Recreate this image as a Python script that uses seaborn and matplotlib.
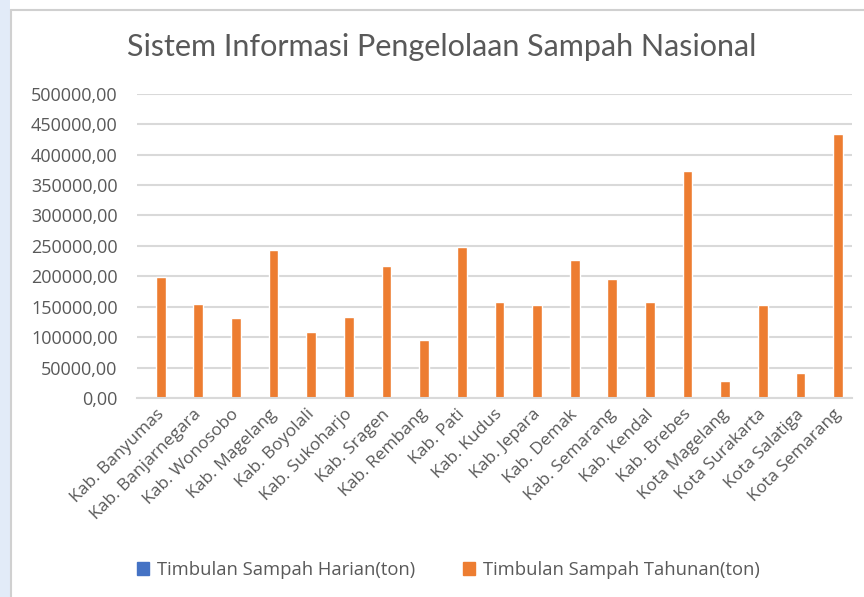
import pandas as pd
import seaborn as sns
import matplotlib.pyplot as plt
import matplotlib.patches as mpatches
from matplotlib.ticker import FuncFormatter

# Wilayah (kabupaten / kota)
wilayah = ['Kab. Banyumas', 'Kab. Banjarnegara', 'Kab. Wonosobo', 'Kab. Magelang',
           'Kab. Boyolali', 'Kab. Sukoharjo', 'Kab. Sragen', 'Kab. Rembang',
           'Kab. Pati', 'Kab. Kudus', 'Kab. Jepara', 'Kab. Demak',
           'Kab. Semarang', 'Kab. Kendal', 'Kab. Brebes', 'Kota Magelang',
           'Kota Surakarta', 'Kota Salatiga', 'Kota Semarang']

# Timbulan sampah (ton)
harian = [546, 423, 362, 665, 296, 365, 596, 263, 678, 434,
          419, 623, 534, 432, 1021, 75, 419, 114, 1187]
tahunan = [199300, 154400, 132000, 242700, 108000, 133100, 217500, 96000,
           247600, 158400, 152800, 227400, 195000, 157700, 372500, 27400,
           152800, 41700, 433300]

series_names = ['Timbulan Sampah Harian(ton)', 'Timbulan Sampah Tahunan(ton)']
series_colors = ['#4472C4', '#ED7D31']

df = pd.DataFrame({
    'Wilayah': wilayah * 2,
    'Nilai': harian + tahunan,
    'Seri': [series_names[0]] * len(wilayah) + [series_names[1]] * len(wilayah),
})

sns.set_style('white')
plt.rcParams['font.family'] = ['Open Sans', 'DejaVu Sans']
text_color = '#595959'
grid_color = '#D9D9D9'

fig = plt.figure(figsize=(8.64, 5.97), dpi=100)

# screenshot frame: light blue strip on the left and a thin gray border
fig.patches.append(mpatches.Rectangle((0, 0), 10 / 864, 1, transform=fig.transFigure,
                                      facecolor='#E2EBF8', edgecolor='none', zorder=0))
fig.add_artist(plt.Line2D([10.5 / 864, 10.5 / 864], [0, 1 - 10 / 597],
                          color='#D0D0D0', lw=1.5, transform=fig.transFigure))
fig.add_artist(plt.Line2D([10.5 / 864, 1], [1 - 10 / 597, 1 - 10 / 597],
                          color='#D0D0D0', lw=1.5, transform=fig.transFigure))

ax = fig.add_axes([137 / 864, 1 - 398 / 597, (852 - 137) / 864, (398 - 93.7) / 597])

sns.barplot(data=df, x='Wilayah', y='Nilai', hue='Seri', palette=series_colors,
            width=0.52, ax=ax, legend=False, saturation=1)

ax.set_ylim(0, 500000)
ax.set_yticks(range(0, 500001, 50000))
ax.yaxis.set_major_formatter(FuncFormatter(lambda v, p: f'{v:.2f}'.replace('.', ',')))
ax.set_xlim(-0.5, len(wilayah) - 0.5)

ax.grid(axis='y', color=grid_color, lw=1.5)
ax.set_axisbelow(True)
for s in ['top', 'right', 'left']:
    ax.spines[s].set_visible(False)
ax.spines['bottom'].set_color(grid_color)
ax.spines['bottom'].set_linewidth(1.5)

ax.tick_params(axis='both', length=0, colors=text_color, labelsize=12.5)
ax.tick_params(axis='y', pad=14, labelsize=13)
ax.tick_params(axis='x', pad=6)
plt.setp(ax.get_xticklabels(), rotation=45, ha='right', rotation_mode='anchor')
ax.set_xlabel('')
ax.set_ylabel('')

fig.text(442 / 864, 1 - 47 / 597, 'Sistem Informasi Pengelolaan Sampah Nasional',
         ha='center', va='center', fontsize=22, color=text_color, family=['Lato', 'DejaVu Sans'])

handles = [mpatches.Patch(color=c, label=n) for c, n in zip(series_colors, series_names)]
fig.legend(handles=handles, loc='center', bbox_to_anchor=(448 / 864, 1 - 570 / 597),
           ncol=2, frameon=False, fontsize=13.2, labelcolor=text_color,
           handlelength=0.7, handleheight=0.7, handletextpad=0.4, columnspacing=2.6)

fig.savefig('out.png', dpi=100)
